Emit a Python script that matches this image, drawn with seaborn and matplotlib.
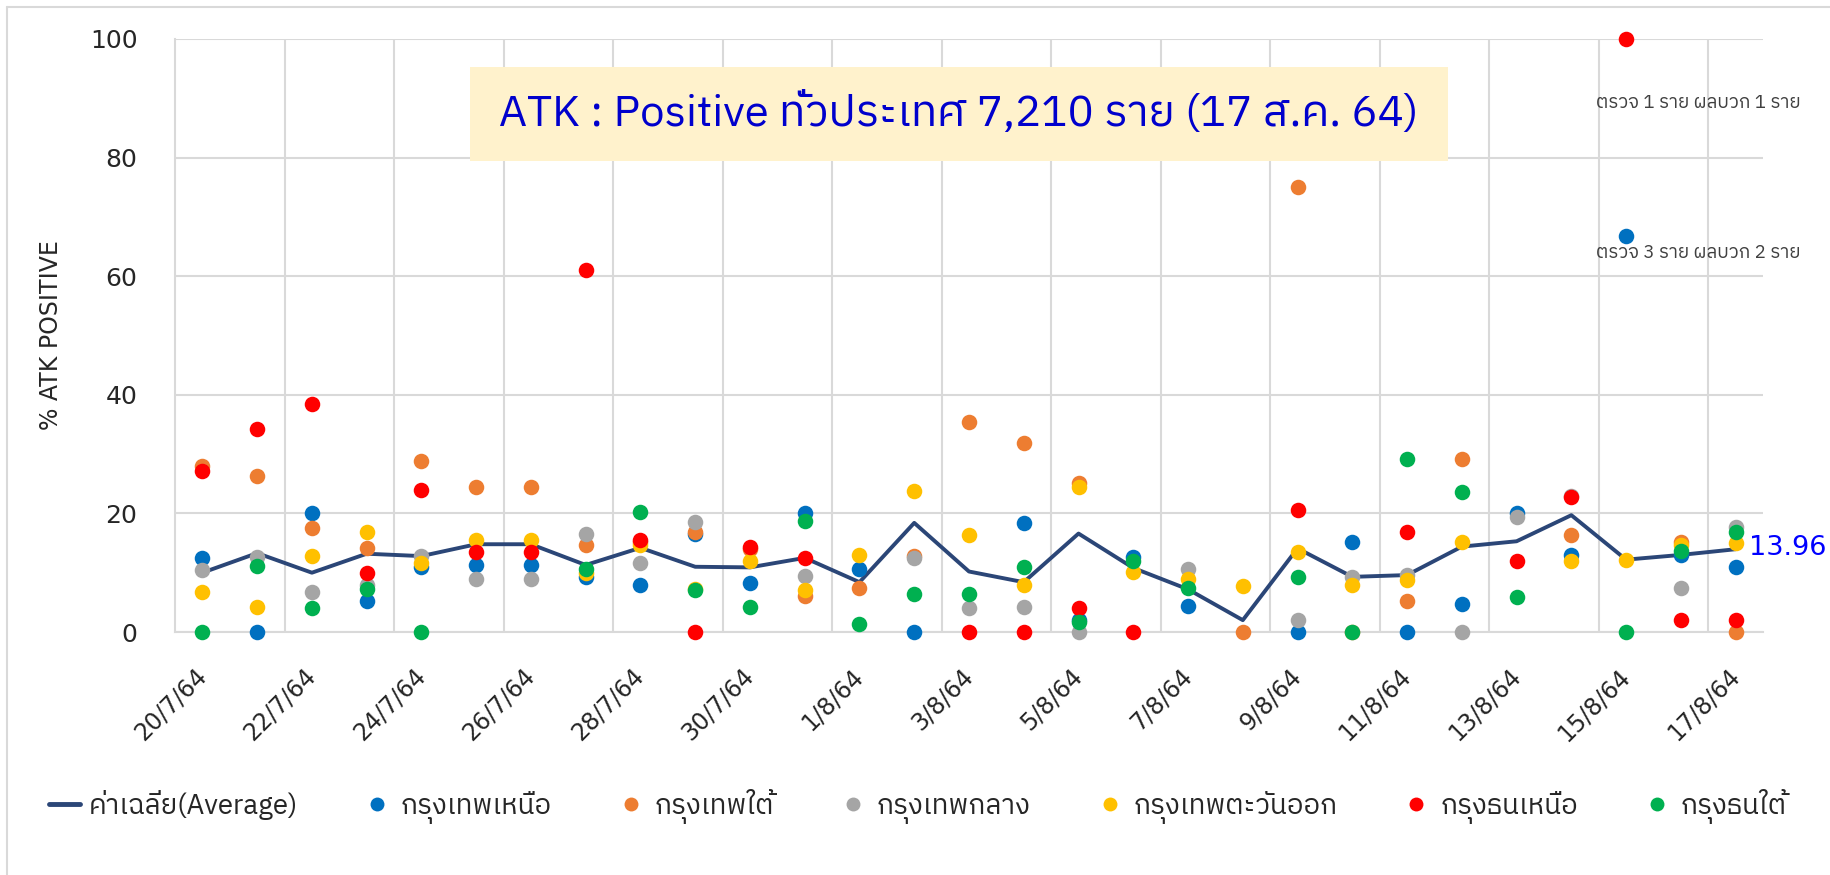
import numpy as np
import pandas as pd
import matplotlib
matplotlib.use("Agg")
import matplotlib.pyplot as plt
import matplotlib.font_manager as fm
import matplotlib.transforms as mtransforms
from matplotlib.ft2font import FT2Font
from matplotlib.lines import Line2D
from matplotlib.patches import Rectangle
import seaborn as sns

# ---------------- data ----------------
dates = ["20/7/64", "21/7/64", "22/7/64", "23/7/64", "24/7/64", "25/7/64", "26/7/64",
         "27/7/64", "28/7/64", "29/7/64", "30/7/64", "31/7/64", "1/8/64", "2/8/64",
         "3/8/64", "4/8/64", "5/8/64", "6/8/64", "7/8/64", "8/8/64", "9/8/64",
         "10/8/64", "11/8/64", "12/8/64", "13/8/64", "14/8/64", "15/8/64", "16/8/64",
         "17/8/64"]
nan = np.nan
average = [10.0, 13.3, 10.0, 13.2, 12.8, 14.8, 14.8, 11.3, 14.2, 11.0, 10.9, 12.5, 8.4, 18.4,
           10.2, 8.4, 16.6, 10.8, 7.2, 2.0, 14.1, 9.3, 9.6, 14.4, 15.3, 19.7, 12.2, 13.0, 13.96]
bkk_north = [12.5, 0, 20.0, 5.3, 11.0, 11.3, 11.3, 9.2, 7.9, 16.5, 8.2, 20.1, 10.6, 0,
             nan, 18.4, 2.0, 12.7, 4.4, nan, 0, 15.1, 0, 4.8, 20.0, 13.0, 66.7, 13.0, 11.0]
bkk_south = [28.0, 26.3, 17.5, 14.1, 28.8, 24.4, 24.4, 14.6, 15.2, 16.9, 14.0, 6.1, 7.5, 12.8,
             35.4, 31.8, 25.2, nan, nan, 0, 75.0, 0, 5.3, 29.2, nan, 16.4, nan, 15.1, 0]
bkk_central = [10.4, 12.6, 6.8, 8.0, 12.8, 9.0, 9.0, 16.5, 11.7, 18.5, nan, 9.4, nan, 12.4,
               4.0, 4.3, 0, nan, 10.7, nan, 2.0, 9.2, 9.6, 0, 19.4, 23.0, nan, 7.5, 17.7]
bkk_east = [6.8, 4.2, 12.9, 16.8, 11.6, 15.5, 15.5, 9.9, 14.7, 7.2, 12.0, 7.0, 13.0, 23.7,
            16.3, 7.9, 24.5, 10.1, 8.9, 7.8, 13.5, 7.9, 8.8, 15.1, nan, 12.0, 12.1, 14.6, 15.0]
thon_north = [27.2, 34.3, 38.4, 9.9, 23.9, 13.5, 13.5, 61.1, 15.5, 0, 14.4, 12.5, nan, nan,
              0, 0, 4.0, 0, nan, nan, 20.6, nan, 16.8, nan, 12.0, 22.7, 100, 2.0, 2.0]
thon_south = [0, 11.2, 4.0, 7.3, 0, nan, nan, 10.6, 20.2, 7.1, 4.2, 18.8, 1.4, 6.4,
              6.4, 10.9, 1.7, 11.9, 7.4, nan, 9.2, 0, 29.2, 23.6, 5.9, nan, 0, 13.7, 16.8]

series_names = ["กรุงเทพเหนือ", "กรุงเทพใต้", "กรุงเทพกลาง", "กรุงเทพตะวันออก",
                "กรุงธนเหนือ", "กรุงธนใต้"]
series_values = [bkk_north, bkk_south, bkk_central, bkk_east, thon_north, thon_south]
series_colors = ["#0070C0", "#ED7D31", "#A5A5A5", "#FFC000", "#FF0000", "#00B050"]
avg_label = "ค่าเฉลี่ย(Average)"
avg_color = "#2B4677"
y_label = "% ATK POSITIVE"
title_text = "ATK : Positive ทั่วประเทศ 7,210 ราย (17 ส.ค. 64)"
note_1 = "ตรวจ 1 ราย ผลบวก 1 ราย"
note_2 = "ตรวจ 3 ราย ผลบวก 2 ราย"
last_avg_label = "13.96"

# ---------------- fonts ----------------
def find_thai_fonts():
    found = []
    seen = set()
    for f in fm.fontManager.ttflist:
        if f.fname in seen:
            continue
        seen.add(f.fname)
        try:
            cmap = FT2Font(f.fname).get_charmap()
        except Exception:
            continue
        if 0x0E01 in cmap and 0x0E23 in cmap and 0x0E48 in cmap:
            found.append(f.name)
    return found

thai_fonts = find_thai_fonts()
pref = [n for n in thai_fonts if "Thai" in n and "Looped" not in n]
thai_font = (pref or thai_fonts or ["DejaVu Sans"])[0]

sns.set_theme(style="white")
plt.rcParams["font.family"] = [thai_font, "DejaVu Sans"]
latin = ["DejaVu Sans"]

# ---------------- figure ----------------
W, H = 1831, 875
fig = plt.figure(figsize=(W / 100, H / 100), dpi=100)
fig.patch.set_facecolor("white")
ax = fig.add_axes([175 / W, 1 - 632 / H, (1763 - 175) / W, (632 - 39) / H])

x = np.arange(len(dates))
df_avg = pd.DataFrame({"x": x, "y": average})
sns.lineplot(data=df_avg, x="x", y="y", ax=ax, color=avg_color, linewidth=2.8,
             zorder=3, legend=False)

for name, vals, col in zip(series_names, series_values, series_colors):
    d = pd.DataFrame({"x": x, "y": vals}).dropna()
    sns.scatterplot(data=d, x="x", y="y", ax=ax, color=col, s=125, linewidth=0,
                    zorder=4, clip_on=False, legend=False)

ax.set_xlim(-0.5, len(dates) - 0.5)
ax.set_ylim(0, 100)
ax.set_yticks([0, 20, 40, 60, 80, 100])
ax.set_yticklabels(["0", "20", "40", "60", "80", "100"], fontsize=18, family=latin)
ax.set_xticks(x[::2])
ax.set_xticklabels(dates[::2], rotation=45, ha="right", va="center",
                   rotation_mode="anchor", fontsize=17, family=latin)
shift = mtransforms.ScaledTranslation(6 / 100, 4 / 100, fig.dpi_scale_trans)
for lab in ax.get_xticklabels():
    lab.set_transform(lab.get_transform() + shift)
ax.set_xticks(np.arange(1.5, len(dates) - 1, 2), minor=True)
ax.tick_params(axis="both", which="both", length=0)
ax.tick_params(axis="y", pad=27)
ax.tick_params(axis="x", pad=29)
ax.grid(False)
ax.grid(True, axis="y", which="major", color="#D9D9D9", linewidth=1.5, zorder=0)
ax.grid(True, axis="x", which="minor", color="#D9D9D9", linewidth=1.5, zorder=0)
for s in ["top", "right"]:
    ax.spines[s].set_visible(False)
for s in ["left", "bottom"]:
    ax.spines[s].set_color("#D9D9D9")
    ax.spines[s].set_linewidth(1.5)
ax.set_xlabel("")
ax.set_ylabel(y_label, fontsize=17, family=latin)
ax.yaxis.set_label_coords(-(175 - 63) / (1763 - 175), 0.5)

# annotations
fig.text(1596 / W, 1 - 103 / H, note_1, fontsize=13.5,
         color="#404040", va="center", ha="left")
fig.text(1596 / W, 1 - 253 / H, note_2, fontsize=13.5,
         color="#404040", va="center", ha="left")
fig.text(1749 / W, 1 - 548 / H, last_avg_label, fontsize=19.5, color="#0000FF",
         va="center", ha="left", family=latin)

# title box
fig.add_artist(Rectangle((470 / W, 1 - 161 / H), (1448 - 470) / W, (161 - 67) / H,
                         transform=fig.transFigure, facecolor="#FFF2CC",
                         edgecolor="none", zorder=5))
fig.text((470 + 1448) / 2 / W, 1 - 114 / H, title_text, fontsize=31.5, color="#0000CC",
         ha="center", va="center", zorder=6)

# outer border
fig.add_artist(Line2D([7 / W, 1.0], [1 - 7 / H, 1 - 7 / H], transform=fig.transFigure,
                      color="#D9D9D9", linewidth=1.5))
fig.add_artist(Line2D([7 / W, 7 / W], [0, 1 - 7 / H], transform=fig.transFigure,
                      color="#D9D9D9", linewidth=1.5))

# legend
handles = [Line2D([0], [0], color=avg_color, linewidth=3.5)]
labels = [avg_label]
for name, col in zip(series_names, series_colors):
    handles.append(Line2D([0], [0], marker="o", linestyle="none", markersize=10,
                          markerfacecolor=col, markeredgewidth=0))
    labels.append(name)
fig.legend(handles, labels, loc="center", bbox_to_anchor=(918 / W, 1 - 806 / H),
           ncol=7, frameon=False, fontsize=20, handlelength=1.1, handletextpad=0.3,
           columnspacing=2.3)

fig.savefig("out.png", dpi=100)
